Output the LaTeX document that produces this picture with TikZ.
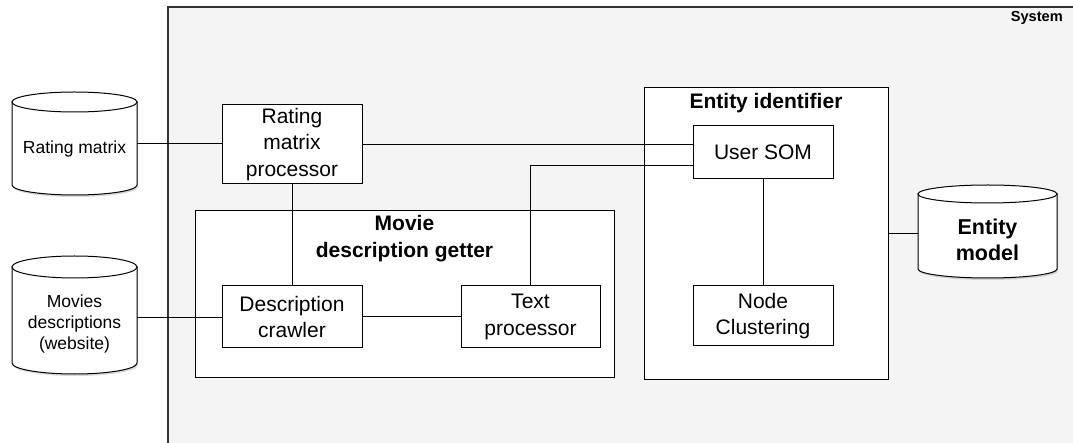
\documentclass[tikz,border=0pt]{standalone}
\usepackage{fontspec}
\setmainfont{Liberation Sans}
\definecolor{sysgray}{HTML}{F4F4F4}
\definecolor{sysline}{HTML}{333333}
% Data-store drum: left, top, right, bottom, radius of the end ellipse
\newcommand\drumshape[5]{%
  \fill[black!30, opacity=0.5] (#1+1,#2+#5+2) -- (#1+1,#4-#5+2)
    arc[start angle=180, end angle=0, x radius={(#3-#1)/2}, y radius=#5]
    -- (#3+1,#2+#5+2) -- cycle;
  \draw[drum] (#1,#2+#5) -- (#1,#4-#5)
    arc[start angle=180, end angle=0, x radius={(#3-#1)/2}, y radius=#5]
    -- (#3,#2+#5) -- cycle;
  \draw[drum] ({(#1+#3)/2},#2+#5) ellipse[x radius={(#3-#1)/2}, y radius=#5];
}
\begin{document}
\begin{tikzpicture}[x=1pt, y=-1pt,
  wire/.style={draw=black, line width=1pt},
  box/.style={draw=black, line width=1pt, fill=white, rectangle, inner sep=0pt,
    align=center, font=\fontsize{21}{26.5}\selectfont},
  group/.style={draw=black, line width=1pt, fill=white, rectangle, inner sep=0pt},
  grouptitle/.style={align=center, inner sep=0pt, font=\fontsize{21}{27}\selectfont\bfseries},
  drum/.style={draw=black, line width=1pt, fill=white},
  drumtext/.style={align=center, inner sep=0pt, font=\fontsize{17.5}{21}\selectfont},
]
\useasboundingbox (0,0) rectangle (1073,443);

% System boundary (runs off the right and bottom edges)
\begin{scope}
  \clip (0,0) rectangle (1073,443);
  \draw[fill=sysgray, draw=sysline, line width=1.2pt] (168,7) rectangle (1100,470);
\end{scope}
\node[inner sep=0pt, anchor=east, font=\fontsize{14.6}{16}\selectfont\bfseries] (systitle) at (1063,18) {System};

% External data stores
\drumshape{12}{92}{137}{195}{10}
\node[drumtext] (rm) at (74.5,149) {Rating matrix};
\coordinate (rmR) at (137,144);

\drumshape{12}{256}{137}{374}{11}
\node[drumtext] (md) at (74.5,324) {Movies\\descriptions\\(website)};
\coordinate (mdR) at (137,318);

\drumshape{918}{185}{1057}{278}{9}
\node[drumtext, font=\fontsize{21.5}{26}\selectfont\bfseries] (em) at (987.5,239.5) {Entity\\model};
\coordinate (emL) at (918,233.5);

% Movie description getter group
\node[group, minimum width=419, minimum height=166] (mdg) at (404.5,294) {};
\node[grouptitle] (mdgt) at (404.5,238.5) {Movie\\description getter};

% Entity identifier group
\node[group, minimum width=244, minimum height=291] (ei) at (766,233.5) {};
\node[grouptitle] (eit) at (766,103) {Entity identifier};

% Processing components
\node[box, minimum width=140, minimum height=79] (rmp) at (292,144.5) {Rating\\matrix\\processor};
\node[box, minimum width=140, minimum height=62] (dc) at (292,317) {Description\\crawler};
\node[box, minimum width=139, minimum height=62] (tp) at (530.5,317) {Text\\processor};
\node[box, minimum width=140, minimum height=53] (usom) at (763,152.5) {User SOM};
\node[box, minimum width=140, minimum height=60] (nc) at (763,316) {Node\\Clustering};

% Connections
\draw[wire] (rmR) -- (rmp.west |- rmR);
\draw[wire] (mdR) -- (dc.west |- mdR);
\draw[wire] (rmp.south) -- (dc.north);
\draw[wire] (dc.east) -- (tp.west);
\draw[wire] (rmp.east) -- (rmp.east -| usom.west);
\draw[wire] (tp.north) |- ([yshift=-13.5pt]usom.west);
\draw[wire] (usom.south) -- (nc.north);
\draw[wire] (ei.east) -- (emL);
\end{tikzpicture}
\end{document}
